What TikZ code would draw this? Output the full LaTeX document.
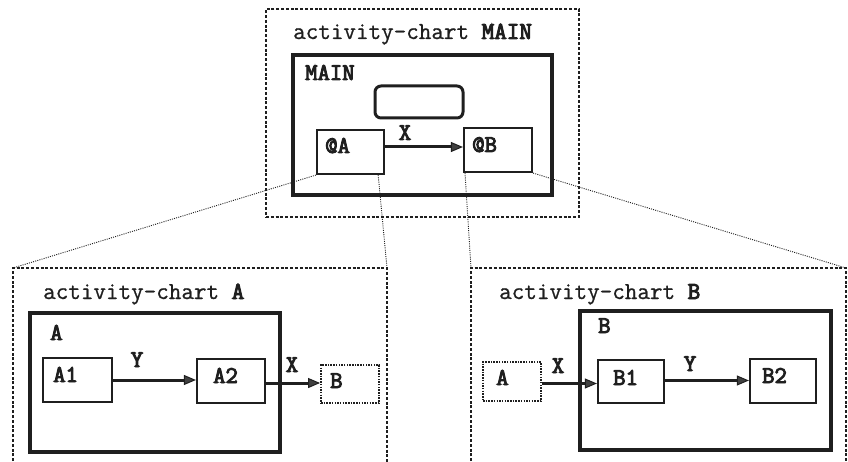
\documentclass[tikz,border=0pt]{standalone}
\usepackage{fontspec}
\newfontfamily\boldtt{Latin Modern Mono}[FakeBold=4]
\newfontfamily\regtt{Latin Modern Mono}[FakeBold=0.8]
\usetikzlibrary{arrows.meta,calc}
\definecolor{ink}{gray}{0.12}
\begin{document}
\begin{tikzpicture}[x=1pt,y=-1pt,
  txt/.style={font=\regtt\fontsize{24.4}{28}\selectfont, text=ink, anchor=base west, inner sep=0pt},
  btxt/.style={font=\boldtt\fontsize{24}{28}\selectfont, text=ink, anchor=base west, inner sep=0pt},
  ctxt/.style={font=\boldtt\fontsize{24}{28}\selectfont, text=ink, anchor=base, inner sep=0pt},
  frame/.style={draw=ink, line width=1.2pt, dash pattern=on 3pt off 1.8pt},
  chartbox/.style={draw=ink, line width=3.8pt, rectangle, inner sep=0pt},
  statebox/.style={draw=ink, line width=2.2pt, rectangle, inner sep=0pt},
  extbox/.style={draw=ink, line width=1.8pt, rectangle, inner sep=0pt, dash pattern=on 1.5pt off 1.2pt},
  flow/.style={draw=ink, line width=3pt, -{Triangle[length=12pt,width=10pt,fill=gray!50!black,line width=1pt]}},
  link/.style={draw=ink, line width=0.9pt, dash pattern=on 1pt off 1.2pt}
]
\useasboundingbox (0,0) rectangle (848,462);

% ---- top: activity-chart MAIN ----
\node[frame, rectangle, inner sep=0pt, minimum width=313pt, minimum height=208pt] (frameM) at (422.5,113) {};
\node[txt] (titleM) at (293,39) {activity-chart {\boldtt MAIN}};
\node[chartbox, minimum width=259pt, minimum height=140pt] (mainbox) at (422.5,125) {};
\node[btxt] (lblMAIN) at (305,80) {MAIN};
\node[statebox, line width=3pt, rounded corners=6pt, minimum width=88pt, minimum height=32pt] (rbox) at (419,102) {};
\node[statebox, minimum width=67pt, minimum height=44pt] (atA) at (350.5,152) {};
\node[btxt] (lblatA) at (325,153) {@A};
\node[statebox, minimum width=68pt, minimum height=44pt] (atB) at (498,150) {};
\node[btxt] (lblatB) at (472,152) {@B};
\draw[flow] ($(atA.east)+(0,-5)$) coordinate (xs) -- (xs -| atB.west);
\node[ctxt] (lblXm) at (405,140) {X};

% ---- left: activity-chart A ----
\coordinate (fAnw) at (13,268);
\coordinate (fAne) at (387,268);
\coordinate (fAsw) at (13,466);
\coordinate (fAse) at (387,466);
\draw[frame] (fAsw) -- (fAnw) -- (fAne) -- (fAse);
\node[txt] (titleA) at (43,299) {activity-chart {\boldtt A}};
\node[chartbox, minimum width=250pt, minimum height=139pt] (Abox) at (155,382.5) {};
\node[btxt] (lblA) at (50,340) {A};
\node[statebox, minimum width=69pt, minimum height=44pt] (A1) at (77.5,380) {};
\node[btxt] (lblA1) at (53,382) {A1};
\node[statebox, minimum width=68pt, minimum height=44pt] (A2) at (231,381) {};
\node[btxt] (lblA2) at (213,383) {A2};
\node[extbox, minimum width=58pt, minimum height=38pt] (extB) at (350,384) {};
\node[btxt] (lblextB) at (330,388) {B};
\draw[flow] (A1.east) -- (A1.east -| A2.west);
\node[ctxt] (lblYa) at (137,367) {Y};
\draw[flow] ($(A2.east)+(0,2)$) coordinate (xa) -- (xa -| extB.west);
\node[ctxt] (lblXa) at (292,372) {X};

% ---- right: activity-chart B ----
\coordinate (fBnw) at (471,268);
\coordinate (fBne) at (846,268);
\coordinate (fBsw) at (471,466);
\coordinate (fBse) at (846,466);
\draw[frame] (fBsw) -- (fBnw) -- (fBne) -- (fBse);
\node[txt] (titleB) at (499,299) {activity-chart {\boldtt B}};
\node[chartbox, minimum width=251pt, minimum height=139pt] (Bbox) at (705.5,380.5) {};
\node[btxt] (lblB) at (598,333) {B};
\node[extbox, minimum width=58pt, minimum height=39pt] (extA) at (512,381.5) {};
\node[btxt] (lblextA) at (496,385) {A};
\node[statebox, minimum width=66pt, minimum height=43pt] (B1) at (631,381.5) {};
\node[btxt] (lblB1) at (613,385) {B1};
\node[statebox, minimum width=66pt, minimum height=44pt] (B2) at (783,381) {};
\node[btxt] (lblB2) at (762,383) {B2};
\draw[flow] ($(extA.east)+(0,2)$) coordinate (xb) -- (xb -| B1.west);
\node[ctxt] (lblXb) at (558,373) {X};
\draw[flow] ($(B1.east)+(0,-1)$) coordinate (yb) -- (yb -| B2.west);
\node[ctxt] (lblYb) at (690,371) {Y};

% ---- dotted links ----
\draw[link] (atA.south west) -- (fAnw);
\draw[link] ($(atA.south east)!0.1!(atA.south west)$) -- (fAne);
\draw[link] ($(atB.south west)!0.03!(atB.south east)$) -- (fBnw);
\draw[link] (atB.south east) -- (fBne);
\end{tikzpicture}
\end{document}
